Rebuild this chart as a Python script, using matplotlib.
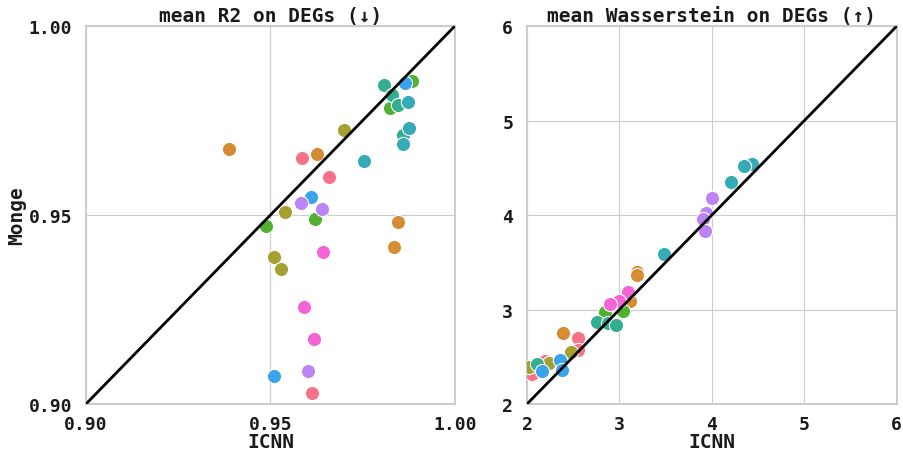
import matplotlib
matplotlib.use("Agg")
import matplotlib.pyplot as plt
import seaborn as sns

# group index -> husl colour (9 groups)
GROUPS = list(range(9))

# left panel: mean R2 on DEGs
r2_icnn = [0.9585, 0.9658, 0.9612,
           0.9387, 0.9627, 0.9847, 0.9836,
           0.9699, 0.9539, 0.9510, 0.9529,
           0.9883, 0.9824, 0.9621, 0.9488,
           0.9808, 0.9831, 0.9845, 0.9860,
           0.9873, 0.9877, 0.9859, 0.9753,
           0.9864, 0.9610, 0.9509,
           0.9583, 0.9639, 0.9601,
           0.9643, 0.9592, 0.9619]
r2_monge = [0.9651, 0.9601, 0.9030,
            0.9676, 0.9661, 0.9481, 0.9415,
            0.9724, 0.9507, 0.9389, 0.9358,
            0.9854, 0.9782, 0.9490, 0.9472,
            0.9844, 0.9817, 0.9791, 0.9712,
            0.9800, 0.9730, 0.9687, 0.9642,
            0.9849, 0.9548, 0.9075,
            0.9533, 0.9515, 0.9087,
            0.9401, 0.9258, 0.9171]
r2_group = [0] * 3 + [1] * 4 + [2] * 4 + [3] * 4 + [4] * 4 + [5] * 4 + [6] * 3 + [7] * 3 + [8] * 3

# right panel: mean Wasserstein on DEGs
w_icnn = [2.555, 2.555, 2.195, 2.051,
          3.186, 3.186, 3.114, 2.392,
          2.476, 2.241, 2.025,
          3.041, 2.843,
          2.760, 2.879, 2.962, 2.105,
          4.436, 4.349, 4.205, 3.478,
          2.357, 2.375, 2.159,
          4.000, 3.935, 3.906, 3.924,
          3.089, 2.998, 2.897]
w_monge = [2.695, 2.575, 2.458, 2.317,
           3.400, 3.370, 3.093, 2.751,
           2.547, 2.434, 2.388,
           2.987, 2.970,
           2.871, 2.854, 2.839, 2.423,
           4.540, 4.515, 4.352, 3.587,
           2.469, 2.360, 2.352,
           4.183, 4.021, 3.958, 3.834,
           3.188, 3.093, 3.058]
w_group = [0] * 4 + [1] * 4 + [2] * 3 + [3] * 2 + [4] * 4 + [5] * 4 + [6] * 3 + [7] * 4 + [8] * 3

sns.set_style("whitegrid")
plt.rcParams["font.family"] = ["DejaVu Sans Mono"]
plt.rcParams["font.weight"] = "bold"
plt.rcParams["axes.labelweight"] = "bold"
plt.rcParams["axes.titleweight"] = "bold"
plt.rcParams["text.color"] = "#1a1a1a"
plt.rcParams["xtick.color"] = "#1a1a1a"
plt.rcParams["ytick.color"] = "#1a1a1a"
plt.rcParams["axes.labelcolor"] = "#1a1a1a"

palette = sns.color_palette("husl", len(GROUPS))

fig = plt.figure(figsize=(9.04, 4.52), dpi=100)
ax1 = fig.add_axes([0.0951, 0.104, 0.408, 0.836])
ax2 = fig.add_axes([0.583, 0.104, 0.409, 0.836])


def panel(ax, xs, ys, gs, lo, hi, ticks, fmt, title):
    for g in GROUPS:
        px = [x for x, gg in zip(xs, gs) if gg == g]
        py = [y for y, gg in zip(ys, gs) if gg == g]
        ax.scatter(px, py, s=105, color=palette[g], edgecolor="white", linewidth=0.8, zorder=3)
    ax.plot([lo, hi], [lo, hi], color="black", lw=2, zorder=4)
    ax.set_xlim(lo, hi)
    ax.set_ylim(lo, hi)
    ax.set_xticks(ticks)
    ax.set_yticks(ticks)
    ax.set_xticklabels([fmt.format(t) for t in ticks], fontsize=13, fontweight="bold")
    ax.set_yticklabels([fmt.format(t) for t in ticks], fontsize=13, fontweight="bold")
    ax.set_title(title, fontsize=14, fontweight="bold", pad=4)
    ax.set_xlabel("ICNN", fontsize=14, fontweight="bold", labelpad=-1)
    for sp in ax.spines.values():
        sp.set_color("#cccccc")
        sp.set_linewidth(1.5)
    ax.tick_params(axis="x", length=0, pad=8)
    ax.tick_params(axis="y", length=0, pad=10)


panel(ax1, r2_icnn, r2_monge, r2_group, 0.90, 1.00, [0.90, 0.95, 1.00], "{:.2f}",
      "mean R2 on DEGs (\u2193)")
panel(ax2, w_icnn, w_monge, w_group, 2, 6, [2, 3, 4, 5, 6], "{:d}",
      "mean Wasserstein on DEGs (\u2191)")
ax1.set_ylabel("Monge", fontsize=14, fontweight="bold", labelpad=2)

fig.savefig("out.png", dpi=100)
